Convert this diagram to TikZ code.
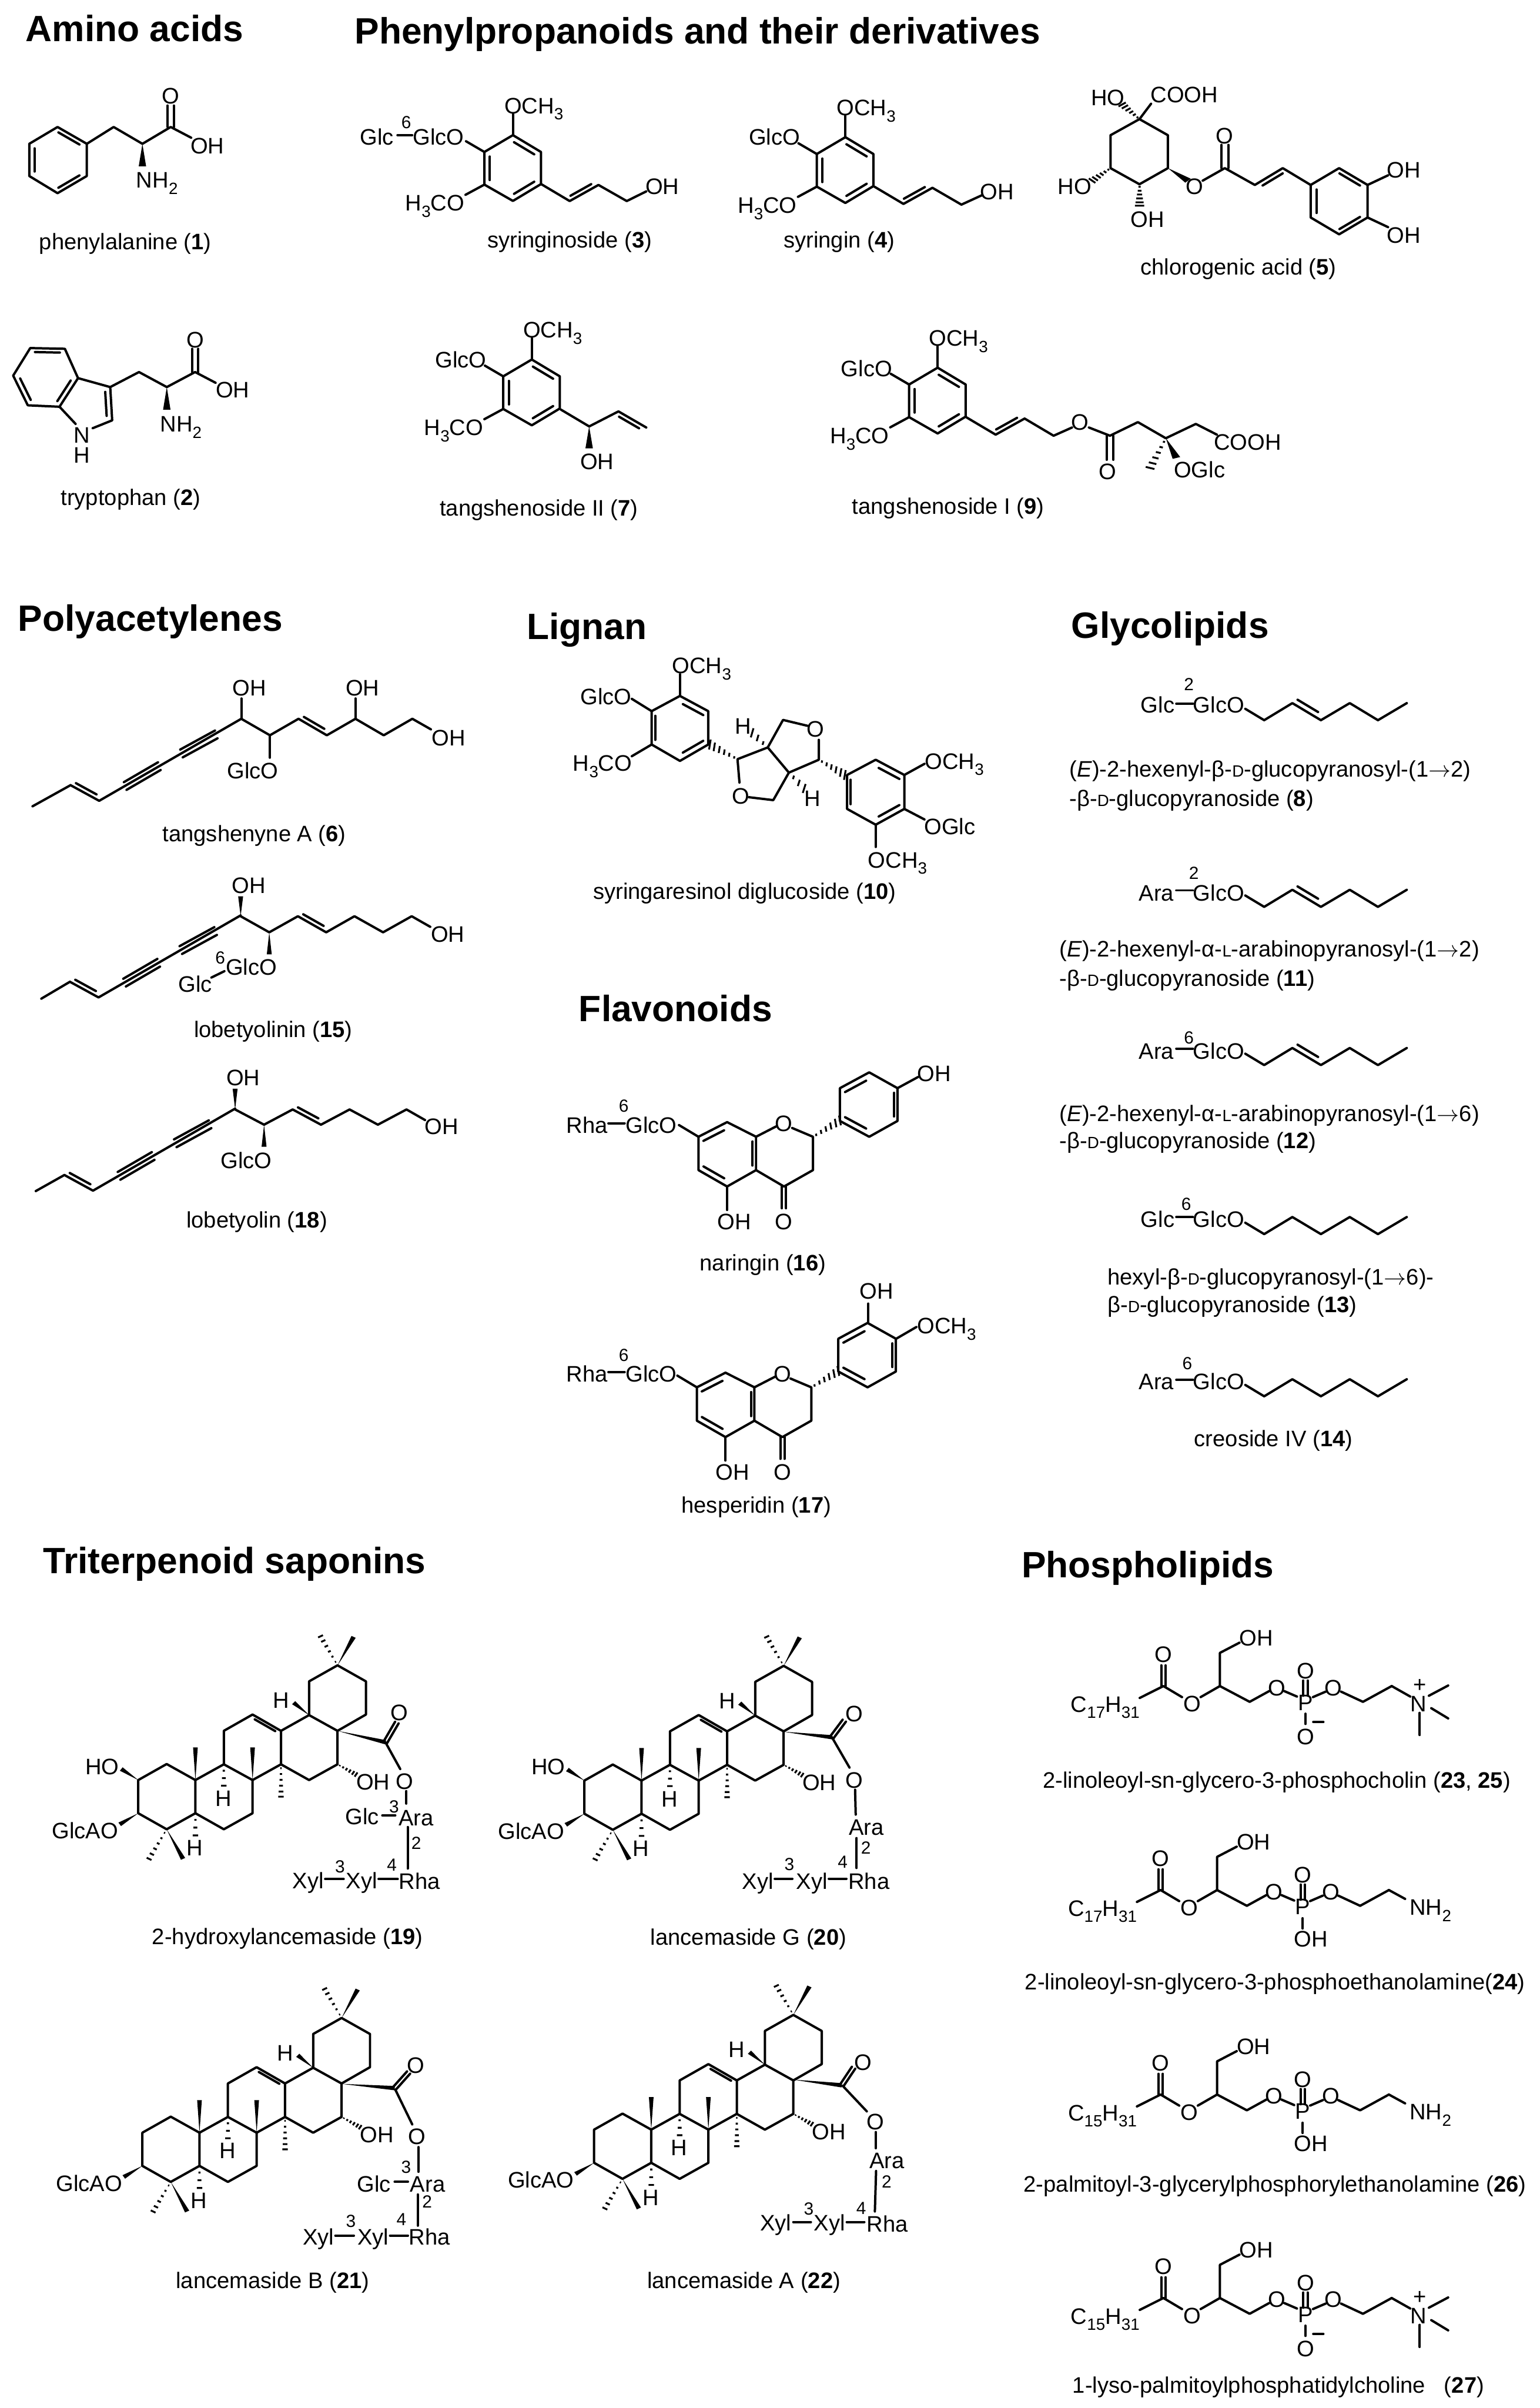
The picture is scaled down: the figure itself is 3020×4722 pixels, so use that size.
\documentclass[tikz,border=0pt]{standalone}
\usepackage{fontspec}
\setmainfont{Liberation Sans}
\usetikzlibrary{calc}
\newcounter{nn}
\tikzset{
 bond/.style={line width=1.15pt,line cap=round,line join=round},
 hashb/.style={line width=.9pt},
 lbl/.style={inner sep=0pt,outer sep=0pt,font=\fontsize{11}{13}\selectfont,text height=7.9pt,text depth=0pt},
 lblw/.style={lbl,anchor=west},
 numl/.style={inner sep=0pt,outer sep=0pt,font=\fontsize{8.6}{10}\selectfont,text height=6.2pt,text depth=0pt},
 ttl/.style={inner sep=0pt,outer sep=0pt,font=\fontsize{17.95}{22}\selectfont\bfseries,text height=12.9pt,text depth=0pt},
 zA/.style={xscale=.9566,yscale=.7015},
 zB/.style={shift={(1400,0)},xscale=1.0332,yscale=.7015},
 zC/.style={shift={(0,1150)},xscale=.6378,yscale=.8291},
 zD/.style={shift={(1000,1150)},xscale=.6378,yscale=1.148},
 zE/.style={shift={(2000,1150)},xscale=.6505,yscale=1.116},
 zF/.style={shift={(50,3000)},xscale=.6059,yscale=.5421},
 zG/.style={shift={(950,3000)},xscale=.6059,yscale=.5421},
 zH/.style={shift={(50,3850)},xscale=.6059,yscale=.5561},
 zI/.style={shift={(950,3850)},xscale=.6059,yscale=.5561},
 zK/.style={shift={(1980,3000)},xscale=.6633,yscale=.5421},
 zL/.style={shift={(1980,3850)},xscale=.6633,yscale=.5561},
}
\newcommand\sbs[1]{\raisebox{-.28em}{\fontsize{8}{8}\selectfont #1}}
\newcommand\smc[1]{{\fontsize{8}{8}\selectfont #1}}
\newcommand\arw{\ensuremath{\rightarrow}}
\newcommand\lb[3]{\stepcounter{nn}\node[lbl] (n\thenn) at (#1,#2) {#3};}
\newcommand\lbw[3]{\stepcounter{nn}\node[lblw] (n\thenn) at (#1,#2) {#3};}
\newcommand\nm[3]{\stepcounter{nn}\node[numl] (n\thenn) at (#1,#2) {#3};}
\newcommand\ttlb[3]{\stepcounter{nn}\node[ttl] (n\thenn) at (#1,#2) {#3};}
\newcommand\WG[2]{\coordinate (wA) at #1;\coordinate (wB) at #2;\fill (wA) -- ($(wB)!1.9pt!90:(wA)$) -- ($(wB)!1.9pt!-90:(wA)$) -- cycle;}
\newcommand\HGl[3]{\coordinate (hA) at #2;\coordinate (hB) at #3;\coordinate (hC) at ($(hA)!2!(hB)$);
 \foreach \hf in {#1}{\pgfmathsetlengthmacro\hdd{\hf*1.9pt+.3pt}
 \draw[hashb] ($(hA)!\hf!(hB)!\hdd!90:(hC)$) -- ($(hA)!\hf!(hB)!\hdd!-90:(hC)$);}}
\newcommand\HG[2]{\HGl{.12,.3,.48,.66,.84,1}{#1}{#2}}
\newcommand\HGs[2]{\HGl{.3,.65,1}{#1}{#2}}
\newcommand\DBL[2]{\coordinate (dA) at ($#1!.14!#2$);\coordinate (dB) at ($#1!.86!#2$);\draw[bond] ($(dA)!2.7pt!90:(dB)$) -- ($(dB)!2.7pt!-90:(dA)$);}
\newcommand\DBR[2]{\coordinate (dA) at ($#1!.14!#2$);\coordinate (dB) at ($#1!.86!#2$);\draw[bond] ($(dA)!2.7pt!-90:(dB)$) -- ($(dB)!2.7pt!90:(dA)$);}
\newcommand\PAIR[3]{\coordinate (cA) at #1;\coordinate (cB) at #2;\draw[bond] ($(cA)!#3!90:(cB)$) -- ($(cB)!#3!-90:(cA)$);\draw[bond] ($(cA)!#3!-90:(cB)$) -- ($(cB)!#3!90:(cA)$);}
% sinapyl ring, full-size pixels, origin at the top vertex
\newcommand\SYR[2]{\begin{scope}[shift={(#1,#2)}]
 \draw[bond] (0,0)--(55,33)--(55,96)--(0,129)--(-56,97)--(-56,33)--cycle;
 \DBR{(0,0)}{(55,33)}\DBR{(55,96)}{(0,129)}\DBR{(-56,97)}{(-56,33)}
 \draw[bond] (0,0)--(0,-42);\lb{41}{-58}{OCH\sbs{3}}
 \draw[bond] (-56,33)--(-92,12);
 \draw[bond] (-56,97)--(-93,117);\lb{-153}{133}{H\sbs{3}CO}
\end{scope}}
\newcommand\YNE[2]{\begin{scope}[shift={(#1,#2)}]
 \draw[bond] (0,0)--(88,37)--(525,-157);\DBL{(0,0)}{(88,37)}
 \PAIR{(168,2)}{(273,-45)}{2.5pt}\PAIR{(341,-75)}{(448,-120)}{2.5pt}
\end{scope}}
\newcommand\HX[2]{\draw[bond] (680,#1+10)--(737,#1+30)--(822,#1)--(908,#1+30)--(995,#1)--(1080,#1+30)--(1167,#1);
 \ifnum#2=1 \DBL{(822,#1)}{(908,#1+30)}\fi}
\newcommand\FLAV[2]{\begin{scope}[shift={(#1,#2)}]
 \draw[bond] (668,915)--(757,940)--(757,997)--(668,1025)--(580,997)--(580,940)--cycle;
 \DBR{(580,940)}{(668,915)}\DBR{(757,940)}{(757,997)}\DBR{(668,1025)}{(580,997)}
 \lb{843}{917}{O}
 \draw[bond] (757,940)--(820,922);\draw[bond] (868,925)--(932,940)--(932,997)--(843,1025)--(757,997);
 \PAIR{(843,1025)}{(843,1062)}{1.6pt}\lb{843}{1085}{O}
 \draw[bond] (668,1025)--(668,1065);\lb{690}{1085}{OH}
 \HG{(932,940)}{(1015,912)}
 \draw[bond] (1015,857)--(1105,830)--(1192,857)--(1192,913)--(1105,940)--(1015,913)--cycle;
 \DBR{(1015,857)}{(1105,830)}\DBR{(1192,857)}{(1192,913)}\DBR{(1105,940)}{(1015,913)}
\end{scope}}
\newcommand\SKEL[3]{\begin{scope}[shift={(50+#1,3000+#2)},xscale=.6059,yscale=.5421]
 \draw[bond] (365,905)--(457,847)--(550,905)--(550,1025)--(457,1083)--(365,1025)--cycle;
 \draw[bond] (550,905)--(642,848)--(735,905)--(735,1025)--(642,1083)--(550,1025);
 \draw[bond] (642,848)--(642,727)--(735,668)--(827,727)--(827,848)--(735,905);
 \draw[bond] (827,727)--(918,670)--(1010,727)--(1010,848)--(918,905)--(827,848);
 \draw[bond] (918,670)--(918,548)--(1010,490)--(1102,548)--(1102,668)--(1010,727);
 \DBR{(735,668)}{(827,727)}
 \WG{(550,905)}{(550,787)}\WG{(735,905)}{(735,787)}
 \HG{(827,848)}{(827,965)}
 \HGs{(642,848)}{(642,925)}\lb{641}{970}{H}
 \HGs{(550,1025)}{(550,1105)}\lb{548}{1150}{H}
 \WG{(918,670)}{(868,625)}\lb{827}{615}{H}
 \WG{(1010,490)}{(1062,387)}\HG{(1010,490)}{(955,385)}
 \WG{(457,1083)}{(510,1190)}\HG{(457,1083)}{(400,1190)}
 \HG{(1010,848)}{(1070,885)}\lb{1125}{912}{OH}
 \WG{(365,1025)}{(305,1065)}\lb{193}{1087}{GlcAO}
 #3
\end{scope}}
\newcommand\HOgrp{\WG{(365,905)}{(310,865)}\lb{248}{855}{HO}}
\newcommand\PHOS[4]{\begin{scope}[shift={(1980+#1,3000+#2)},xscale=.6633,yscale=.5421]
 \lb{283}{630}{C\sbs{#3}H\sbs{31}}
 \draw[bond] (385,608)--(455,565)--(510,605);
 \PAIR{(455,565)}{(455,490)}{1.6pt}
 \lb{455}{450}{O}\lb{540}{628}{O}
 \draw[bond] (565,605)--(622,565)--(710,622)--(768,583);
 \draw[bond] (622,565)--(622,445)--(680,408);
 \lb{730}{390}{OH}\lb{790}{570}{O}
 \draw[bond] (812,583)--(850,603);
 \lb{875}{625}{P}
 \PAIR{(875,600)}{(875,545)}{1.6pt}
 \lb{875}{510}{O}
 \draw[bond] (897,605)--(935,585);
 \lb{958}{570}{O}
 \draw[bond] (980,585)--(1045,622)--(1130,565);
 #4
\end{scope}}
\newcommand\CHOL{\draw[bond] (1130,565)--(1185,603);\lb{1210}{628}{N}\lb{1213}{558}{+}
 \draw[bond] (1240,600)--(1297,563);\draw[bond] (1247,645)--(1297,682);\draw[bond] (1213,662)--(1213,742);
 \draw[bond] (875,665)--(875,702);\lb{875}{747}{O}\draw[bond] (898,695)--(928,695);}
\newcommand\ETHA{\draw[bond] (1130,565)--(1178,597);\lb{1253}{627}{NH\sbs{2}}
 \draw[bond] (875,667)--(875,704);\lb{900}{742}{OH}}
\begin{document}
\begin{tikzpicture}[x=.25pt,y=-.25pt]
\fill[white] (0,0) rectangle (3020,4722);
\useasboundingbox (0,0) rectangle (3020,4722);
% titles
\ttlb{264}{56}{Amino acids}
\ttlb{1368}{60}{Phenylpropanoids and their derivatives}
\ttlb{295}{1212}{Polyacetylenes}
\ttlb{1151}{1228}{Lignan}
\ttlb{1325}{1977}{Flavonoids}
\ttlb{2295}{1226}{Glycolipids}
\ttlb{460}{3060}{Triterpenoid saponins}
\ttlb{2251}{3068}{Phospholipids}
% sinapyl rings
\SYR{1006}{265}\SYR{1658}{269}\SYR{1043}{705}\SYR{1839}{721}
\begin{scope}[zA]
 % phenylalanine
 \draw[bond] (118,355)--(178,402)--(178,492)--(118,540)--(60,492)--(60,402)--cycle;
 \DBR{(118,355)}{(178,402)}\DBR{(178,492)}{(118,540)}\DBR{(60,492)}{(60,402)}
 \draw[bond] (178,402)--(233,355)--(292,402)--(350,355)--(392,385);
 \PAIR{(350,355)}{(350,295)}{1.6pt}
 \WG{(292,402)}{(292,465)}
 \lb{350}{268}{O}\lb{425}{407}{OH}\lb{322}{503}{NH\sbs{2}}
 \lb{257}{675}{phenylalanine (\textbf{1})}
 % tryptophan
 \draw[bond] (62,973)--(133,975)--(160,1057)--(122,1137)--(57,1133)--(27,1050)--cycle;
 \DBR{(62,973)}{(133,975)}\DBR{(160,1057)}{(122,1137)}\DBR{(57,1133)}{(27,1050)}
 \draw[bond] (160,1057)--(226,1082)--(230,1175)--(190,1197);
 \draw[bond] (122,1137)--(155,1185);
 \DBR{(226,1082)}{(230,1175)}
 \draw[bond] (226,1082)--(285,1040)--(342,1082)--(400,1040)--(442,1070);
 \PAIR{(400,1040)}{(400,975)}{1.6pt}
 \WG{(342,1082)}{(342,1145)}
 \lb{400}{950}{O}\lb{477}{1090}{OH}\lb{371}{1185}{NH\sbs{2}}\lb{168}{1215}{N}\lb{168}{1272}{H}
 \lb{268}{1390}{tryptophan (\textbf{2})}
 % syringinoside
 \draw[bond] (1110,515)--(1168,562)--(1227,517)--(1285,562)--(1325,535);
 \DBL{(1168,562)}{(1227,517)}
 \lb{1358}{520}{OH}\lb{773}{383}{Glc}\draw[bond] (815,378)--(845,378);\nm{833}{342}{6}\lb{899}{383}{GlcO}
 \lb{1168}{670}{syringinoside (\textbf{3})}
 % tangshenoside II
 \lb{945}{1005}{GlcO}
 \draw[bond] (1150,1145)--(1208,1192)--(1268,1150)--(1325,1195);
 \DBR{(1268,1150)}{(1325,1195)}
 \WG{(1208,1192)}{(1208,1253)}\lb{1224}{1290}{OH}
 \lb{1105}{1420}{tangshenoside II (\textbf{7})}
\end{scope}
\begin{scope}[zB]
 % syringin
 \lb{115}{382}{GlcO}
 \draw[bond] (305,522)--(360,570)--(415,525)--(470,572)--(510,545);
 \DBL{(360,570)}{(415,525)}
 \lb{538}{535}{OH}\lb{238}{670}{syringin (\textbf{4})}
 % chlorogenic acid
 \draw[bond] (808,333)--(862,378)--(862,470)--(808,515)--(753,470)--(753,378)--cycle;
 \draw[bond] (808,333)--(830,290);\lb{893}{265}{COOH}
 \lb{748}{272}{HO}\HG{(808,333)}{(775,292)}
 \lb{685}{520}{HO}\HG{(753,470)}{(718,505)}
 \lb{823}{612}{OH}\HG{(808,515)}{(808,575)}
 \WG{(862,470)}{(900,505)}\lb{913}{520}{O}
 \draw[bond] (928,505)--(970,470)--(1027,517)--(1080,470)--(1133,517);
 \PAIR{(970,470)}{(970,405)}{1.6pt}\lb{970}{380}{O}
 \DBR{(1027,517)}{(1080,470)}
 \draw[bond] (1187,470)--(1241,517)--(1241,608)--(1187,655)--(1133,608)--(1133,517)--cycle;
 \DBR{(1187,470)}{(1241,517)}\DBR{(1241,608)}{(1187,655)}\DBR{(1133,608)}{(1133,517)}
 \draw[bond] (1241,517)--(1280,490);\lb{1310}{475}{OH}
 \draw[bond] (1241,608)--(1280,635);\lb{1310}{657}{OH}
 \lb{996}{745}{chlorogenic acid (\textbf{5})}
 % tangshenoside I
 \lb{290}{1030}{GlcO}
 \draw[bond] (480,1167)--(535,1215)--(590,1170)--(645,1218)--(680,1195);
 \DBL{(535,1215)}{(590,1170)}
 \lb{695}{1180}{O}
 \draw[bond] (712,1195)--(752,1218)--(805,1180)--(858,1225)--(915,1185)--(955,1215);
 \PAIR{(752,1218)}{(752,1285)}{1.6pt}\lb{748}{1318}{O}
 \lb{1013}{1235}{COOH}
 \WG{(858,1225)}{(878,1280)}\HG{(858,1225)}{(828,1308)}
 \lb{922}{1312}{OGlc}
 \lb{445}{1415}{tangshenoside I (\textbf{9})}
\end{scope}
\begin{scope}[zC]
 % tangshenyne A
 \draw[bond] (100,520)--(217,470);\YNE{217}{470}
 \draw[bond] (742,313)--(830,352)--(918,313)--(1005,352)--(1093,313)--(1180,352)--(1268,313)--(1325,338);
 \DBL{(918,313)}{(1005,352)}
 \draw[bond] (742,313)--(742,265);\lb{767}{240}{OH}
 \draw[bond] (830,352)--(830,405);\lb{777}{435}{GlcO}
 \draw[bond] (1093,313)--(1093,265);\lb{1115}{240}{OH}
 \lb{1380}{357}{OH}\lb{782}{585}{tangshenyne A (\textbf{6})}
 % lobetyolinin
 \draw[bond] (127,975)--(215,935);\YNE{215}{935}
 \draw[bond] (740,780)--(828,818)--(916,780)--(1003,818)--(1090,780)--(1178,818)--(1266,780)--(1323,805);
 \DBL{(916,780)}{(1003,818)}
 \WG{(740,780)}{(740,733)}\lb{765}{706}{OH}
 \WG{(828,818)}{(828,870)}\lb{773}{900}{GlcO}
 \nm{677}{877}{6}\lb{600}{940}{Glc}\draw[bond] (650,925)--(690,910);
 \lb{1377}{822}{OH}\lb{840}{1047}{lobetyolinin (\textbf{15})}
 % lobetyolin
 \draw[bond] (110,1430)--(198,1392);\YNE{198}{1392}
 \draw[bond] (723,1237)--(812,1273)--(900,1237)--(987,1273)--(1075,1237)--(1162,1273)--(1250,1237)--(1307,1262);
 \DBL{(900,1237)}{(987,1273)}
 \WG{(723,1237)}{(723,1188)}\lb{748}{1162}{OH}
 \WG{(812,1273)}{(812,1325)}\lb{757}{1357}{GlcO}
 \lb{1358}{1277}{OH}\lb{790}{1498}{lobetyolin (\textbf{18})}
\end{scope}
\begin{scope}[zD]
 % syringaresinol
 \draw[bond] (523,187)--(610,213)--(610,270)--(523,298)--(436,270)--(436,213)--cycle;
 \DBR{(523,187)}{(610,213)}\DBR{(610,270)}{(523,298)}\DBR{(436,270)}{(436,213)}
 \draw[bond] (523,187)--(523,150);\lb{590}{135}{OCH\sbs{3}}
 \lb{296}{188}{GlcO}\draw[bond] (436,213)--(375,192);
 \lb{285}{302}{H\sbs{3}CO}\draw[bond] (436,270)--(375,290);
 \HG{(700,295)}{(615,270)}
 \draw[bond] (706,335)--(700,295)--(793,275)--(858,318)--(810,365)--(735,360);
 \lb{710}{358}{O}
 \draw[bond] (793,275)--(840,228)--(915,238);
 \lb{940}{243}{O}
 \draw[bond] (950,262)--(950,296)--(858,318);
 \lb{717}{238}{H}\HGs{(793,275)}{(745,250)}
 \lb{930}{362}{H}\HGs{(858,318)}{(905,345)}
 \HG{(950,296)}{(1030,322)}
 \draw[bond] (1037,322)--(1125,296)--(1213,322)--(1213,380)--(1125,407)--(1037,380)--cycle;
 \DBR{(1125,296)}{(1213,322)}\DBR{(1213,380)}{(1125,407)}\DBR{(1037,380)}{(1037,322)}
 \draw[bond] (1213,322)--(1275,303);\lb{1367}{298}{OCH\sbs{3}}
 \draw[bond] (1213,380)--(1275,398);\lb{1353}{410}{OGlc}
 \draw[bond] (1125,407)--(1125,445);\lb{1192}{467}{OCH\sbs{3}}
 \lb{722}{520}{syringaresinol diglucoside (\textbf{10})}
 % naringin
 \FLAV{0}{0}
 \lb{237}{920}{Rha}\draw[bond] (303,917)--(353,917);\nm{350}{887}{6}\lb{435}{920}{GlcO}
 \draw[bond] (580,940)--(520,920);
 \draw[bond] (1192,857)--(1255,838);\lb{1305}{832}{OH}
 \lb{778}{1155}{naringin (\textbf{16})}
 % hesperidin
 \FLAV{-5}{428}
 \lb{237}{1345}{Rha}\draw[bond] (303,1342)--(353,1342);\nm{350}{1313}{6}\lb{435}{1345}{GlcO}
 \draw[bond] (575,1368)--(515,1348);
 \draw[bond] (1102,1257)--(1102,1225);\lb{1128}{1203}{OH}
 \draw[bond] (1188,1285)--(1250,1265);\lb{1343}{1263}{OCH\sbs{3}}
 \lb{758}{1569}{hesperidin (\textbf{17})}
\end{scope}
\begin{scope}[zE]
 \lb{416}{208}{Glc}\draw[bond] (472,206)--(522,206);\nm{510}{172}{2}\lb{600}{208}{GlcO}\HX{205}{1}
 \lbw{150}{320}{(\textit{E})-2-hexenyl-β-\smc{D}-glucopyranosyl-(1\arw 2)}
 \lbw{150}{372}{-β-\smc{D}-glucopyranoside (\textbf{8})}
 \lb{412}{538}{Ara}\draw[bond] (472,534)--(522,534);\nm{525}{503}{2}\lb{600}{538}{GlcO}\HX{533}{1}
 \lbw{120}{637}{(\textit{E})-2-hexenyl-α-\smc{L}-arabinopyranosyl-(1\arw 2)}
 \lbw{120}{688}{-β-\smc{D}-glucopyranoside (\textbf{11})}
 \lb{412}{816}{Ara}\draw[bond] (472,812)--(522,812);\nm{510}{793}{6}\lb{600}{816}{GlcO}\HX{811}{1}
 \lbw{120}{926}{(\textit{E})-2-hexenyl-α-\smc{L}-arabinopyranosyl-(1\arw 6)}
 \lbw{120}{973}{-β-\smc{D}-glucopyranoside (\textbf{12})}
 \lb{416}{1112}{Glc}\draw[bond] (472,1108)--(522,1108);\nm{502}{1085}{6}\lb{600}{1112}{GlcO}\HX{1108}{0}
 \lbw{265}{1213}{hexyl-β-\smc{D}-glucopyranosyl-(1\arw 6)-}
 \lbw{265}{1262}{β-\smc{D}-glucopyranoside (\textbf{13})}
 \lb{412}{1397}{Ara}\draw[bond] (472,1394)--(522,1394);\nm{505}{1365}{6}\lb{600}{1397}{GlcO}\HX{1393}{0}
 \lb{765}{1497}{creoside IV (\textbf{14})}
\end{scope}
% triterpenoid saponins
\SKEL{0}{0}{\HOgrp}
\SKEL{875}{1}{\HOgrp}
\SKEL{8}{691.5}{}
\SKEL{894}{685.5}{}
\begin{scope}[zF]
 \WG{(1010,727)}{(1165,768)}\PAIR{(1165,768)}{(1202,697)}{1.6pt}\lb{1210}{660}{O}
 \draw[bond] (1165,768)--(1213,865);\lb{1228}{910}{O}
 \draw[bond] (1233,945)--(1233,990);
 \lb{1265}{1040}{Ara}\lb{1090}{1037}{Glc}\draw[bond] (1155,1033)--(1197,1033);\nm{1193}{1000}{3}
 \draw[bond] (1237,1075)--(1237,1225);\nm{1265}{1133}{2}\nm{1186}{1210}{4}
 \lb{1275}{1270}{Rha}\lb{915}{1268}{Xyl}\draw[bond] (970,1263)--(1030,1263);\nm{1018}{1218}{3}
 \lb{1088}{1268}{Xyl}\draw[bond] (1143,1263)--(1205,1263);
 \lb{848}{1470}{2-hydroxylancemaside (\textbf{19})}
\end{scope}
\begin{scope}[zG]
 \WG{(968,730)}{(1125,750)}\PAIR{(1125,750)}{(1165,690)}{1.6pt}\lb{1197}{665}{O}
 \draw[bond] (1125,750)--(1182,860);\lb{1197}{905}{O}
 \draw[bond] (1200,940)--(1202,1030);
 \lb{1237}{1075}{Ara}\draw[bond] (1205,1115)--(1205,1223);\nm{1235}{1150}{2}\nm{1160}{1200}{4}
 \lb{1245}{1270}{Rha}\lb{885}{1270}{Xyl}\draw[bond] (940,1262)--(997,1262);\nm{987}{1208}{3}
 \lb{1060}{1270}{Xyl}\draw[bond] (1115,1262)--(1172,1262);
 \lb{855}{1472}{lancemaside G (\textbf{20})}
\end{scope}
\begin{scope}[zH]
 \WG{(1023,425)}{(1195,440)}\PAIR{(1195,440)}{(1240,385)}{1.6pt}\lb{1263}{358}{O}
 \draw[bond] (1197,445)--(1252,568);\lb{1268}{610}{O}
 \draw[bond] (1272,648)--(1272,735);\nm{1232}{718}{3}
 \lb{1302}{778}{Ara}\lb{1128}{778}{Glc}\draw[bond] (1195,770)--(1238,770);
 \draw[bond] (1270,815)--(1270,925);\nm{1300}{840}{2}\nm{1217}{903}{4}
 \lb{1308}{965}{Rha}\lb{948}{965}{Xyl}\draw[bond] (1003,960)--(1063,960);\nm{1053}{908}{3}
 \lb{1125}{965}{Xyl}\draw[bond] (1180,960)--(1238,960);
 \lb{800}{1117}{lancemaside B (\textbf{21})}
\end{scope}
\begin{scope}[zI]
 \WG{(1000,410)}{(1157,430)}\PAIR{(1157,430)}{(1195,368)}{1.6pt}\lb{1226}{348}{O}
 \draw[bond] (1160,432)--(1238,522);\lb{1265}{558}{O}
 \draw[bond] (1267,595)--(1267,652);
 \lb{1303}{695}{Ara}\draw[bond] (1268,732)--(1264,875);\nm{1302}{770}{2}\nm{1220}{862}{4}
 \lb{1305}{918}{Rha}\lb{943}{915}{Xyl}\draw[bond] (1000,912)--(1057,912);\nm{1050}{865}{3}
 \lb{1117}{915}{Xyl}\draw[bond] (1173,912)--(1230,912);
 \lb{840}{1117}{lancemaside A (\textbf{22})}
\end{scope}
% phospholipids
\PHOS{0}{0}{17}{\CHOL}
\PHOS{-5.5}{400}{17}{\ETHA}
\PHOS{-5.5}{801}{15}{\ETHA}
\PHOS{0}{1200}{15}{\CHOL}
\begin{scope}[zK]
 \lb{790}{905}{2-linoleoyl-sn-glycero-3-phosphocholin (\textbf{23}, \textbf{25})}
\end{scope}
\begin{scope}[zL]
 \lb{785}{65}{2-linoleoyl-sn-glycero-3-phosphoethanolamine(\textbf{24})}
 \lb{785}{778}{2-palmitoyl-3-glycerylphosphorylethanolamine (\textbf{26})}
 \lb{795}{1487}{1-lyso-palmitoylphosphatidylcholine\ \ \ (\textbf{27})}
\end{scope}
\end{tikzpicture}
\end{document}
